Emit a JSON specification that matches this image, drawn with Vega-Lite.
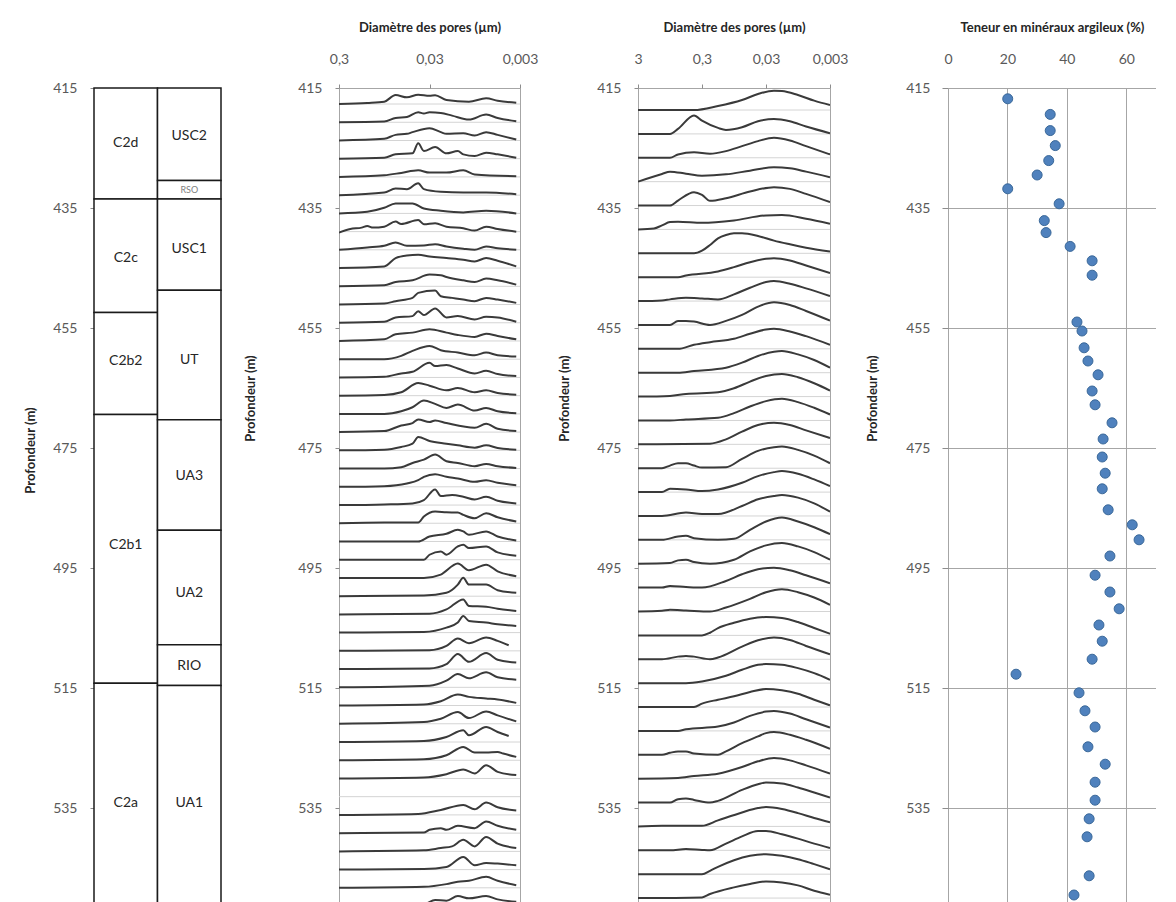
{
"$schema": "https://vega.github.io/schema/vega-lite/v6.json",
"autosize": {"type": "pad"},
"padding": {"left": 24, "top": 20, "right": 0, "bottom": 0},
"background": "white",
"config": {
  "font": "Lato",
  "view": {"stroke": null},
  "axis": {"labelFont": "Lato", "labelFontSize": 14, "labelColor": "#595959", "titleFont": "Lato", "titleFontSize": 13, "titleFontWeight": "bold", "titleColor": "#262626", "tickColor": "#8c8c8c", "domain": false, "grid": false, "labelFlush": false, "labelOverlap": false},
  "axisY": {"tickSize": 4, "labelPadding": 13, "titleBaseline": "middle", "titleAngle": -90},
  "axisX": {"tickSize": 4, "labelPadding": 25, "labelBaseline": "middle", "titleY": -61, "titleBaseline": "middle"}
},
"datasets": {
  "s": [
    {"x0": 0, "x1": 1, "t": 415, "b": 433.5, "n": "C2d", "lx": 0.5, "ly": 424.2},
    {"x0": 0, "x1": 1, "t": 433.5, "b": 452.4, "n": "C2c", "lx": 0.5, "ly": 443.3},
    {"x0": 0, "x1": 1, "t": 452.4, "b": 469.4, "n": "C2b2", "lx": 0.5, "ly": 460.5},
    {"x0": 0, "x1": 1, "t": 469.4, "b": 514.2, "n": "C2b1", "lx": 0.5, "ly": 491.1},
    {"x0": 0, "x1": 1, "t": 514.2, "b": 551, "n": "C2a", "lx": 0.5, "ly": 534.2},
    {"x0": 1, "x1": 2, "t": 415, "b": 430.4, "n": "USC2", "lx": 1.5, "ly": 423},
    {"x0": 1, "x1": 2, "t": 430.4, "b": 433.5, "n": "RSO", "lx": 1.5, "ly": 431.95},
    {"x0": 1, "x1": 2, "t": 433.5, "b": 448.7, "n": "USC1", "lx": 1.5, "ly": 441.8},
    {"x0": 1, "x1": 2, "t": 448.7, "b": 470.3, "n": "UT", "lx": 1.5, "ly": 460.3},
    {"x0": 1, "x1": 2, "t": 470.3, "b": 488.7, "n": "UA3", "lx": 1.5, "ly": 479.7},
    {"x0": 1, "x1": 2, "t": 488.7, "b": 507.8, "n": "UA2", "lx": 1.5, "ly": 499.2},
    {"x0": 1, "x1": 2, "t": 507.8, "b": 514.6, "n": "RIO", "lx": 1.5, "ly": 511.3},
    {"x0": 1, "x1": 2, "t": 514.6, "b": 551, "n": "UA1", "lx": 1.5, "ly": 534.2}
  ],
  "g2": [
    {"y": 417.67},{"y": 420.71},{"y": 423.75},{"y": 426.78},{"y": 429.82},{"y": 432.86},{"y": 435.9},{"y": 438.94},{"y": 441.97},{"y": 445.01},{"y": 448.05},{"y": 451.09},{"y": 454.13},{"y": 457.16},{"y": 460.2},{"y": 463.24},{"y": 466.28},{"y": 469.32},{"y": 472.35},{"y": 475.39},{"y": 478.43},{"y": 481.47},{"y": 484.51},{"y": 487.54},{"y": 490.58},{"y": 493.62},{"y": 496.66},{"y": 499.7},{"y": 502.73},{"y": 505.77},{"y": 508.81},{"y": 511.85},{"y": 514.89},{"y": 517.92},{"y": 520.96},{"y": 524.0},{"y": 527.04},{"y": 530.08},{"y": 533.11},{"y": 536.15},{"y": 539.19},{"y": 542.23},{"y": 545.27},{"y": 548.3}
  ],
  "g3": [
    {"y": 418.67},{"y": 422.65},{"y": 426.63},{"y": 430.61},{"y": 434.59},{"y": 438.57},{"y": 442.55},{"y": 446.53},{"y": 450.51},{"y": 454.49},{"y": 458.47},{"y": 462.45},{"y": 466.43},{"y": 470.41},{"y": 474.39},{"y": 478.37},{"y": 482.35},{"y": 486.33},{"y": 490.31},{"y": 494.29},{"y": 498.27},{"y": 502.25},{"y": 506.23},{"y": 510.21},{"y": 514.19},{"y": 518.17},{"y": 522.15},{"y": 526.13},{"y": 530.11},{"y": 534.09},{"y": 538.07},{"y": 542.05},{"y": 546.03},{"y": 550.01}
  ],
  "p2": [
    {"c":0,"d":0.3,"y":417.67},{"c":0,"d":0.1461,"y":417.5},{"c":0,"d":0.0949,"y":417.28},{"c":0,"d":0.0711,"y":416.17},{"c":0,"d":0.0533,"y":416.56},{"c":0,"d":0.04,"y":416.11},{"c":0,"d":0.03,"y":416.28},{"c":0,"d":0.026,"y":416.22},{"c":0,"d":0.0195,"y":417.0},{"c":0,"d":0.011,"y":417.28},{"c":0,"d":0.0071,"y":416.72},{"c":0,"d":0.0053,"y":417.11},{"c":0,"d":0.0033,"y":417.45},
    {"c":1,"d":0.3,"y":420.71},{"c":1,"d":0.0949,"y":420.6},{"c":1,"d":0.0711,"y":419.99},{"c":1,"d":0.0533,"y":419.82},{"c":1,"d":0.04,"y":419.04},{"c":1,"d":0.0346,"y":419.27},{"c":1,"d":0.03,"y":419.04},{"c":1,"d":0.0225,"y":419.15},{"c":1,"d":0.0169,"y":419.6},{"c":1,"d":0.011,"y":420.27},{"c":1,"d":0.0071,"y":419.43},{"c":1,"d":0.0053,"y":419.99},{"c":1,"d":0.0033,"y":420.54},
    {"c":2,"d":0.3,"y":423.75},{"c":2,"d":0.0949,"y":423.47},{"c":2,"d":0.0711,"y":422.81},{"c":2,"d":0.0533,"y":422.64},{"c":2,"d":0.0462,"y":422.36},{"c":2,"d":0.03,"y":421.69},{"c":2,"d":0.0225,"y":422.36},{"c":2,"d":0.0195,"y":422.64},{"c":2,"d":0.0127,"y":422.53},{"c":2,"d":0.0095,"y":422.92},{"c":2,"d":0.0071,"y":422.36},{"c":2,"d":0.0053,"y":422.81},{"c":2,"d":0.0033,"y":423.58},
    {"c":3,"d":0.3,"y":426.78},{"c":3,"d":0.0949,"y":426.61},{"c":3,"d":0.0711,"y":426.06},{"c":3,"d":0.0462,"y":425.89},{"c":3,"d":0.04,"y":424.22},{"c":3,"d":0.0346,"y":425.5},{"c":3,"d":0.026,"y":424.84},{"c":3,"d":0.0195,"y":425.89},{"c":3,"d":0.0146,"y":425.5},{"c":3,"d":0.0127,"y":426.06},{"c":3,"d":0.0095,"y":426.34},{"c":3,"d":0.0071,"y":425.78},{"c":3,"d":0.0053,"y":426.06},{"c":3,"d":0.0033,"y":426.61},
    {"c":4,"d":0.3,"y":429.82},{"c":4,"d":0.0949,"y":429.54},{"c":4,"d":0.0616,"y":429.15},{"c":4,"d":0.04,"y":428.71},{"c":4,"d":0.03,"y":429.1},{"c":4,"d":0.0195,"y":429.1},{"c":4,"d":0.0127,"y":428.71},{"c":4,"d":0.0095,"y":429.43},{"c":4,"d":0.0033,"y":429.71},
    {"c":5,"d":0.3,"y":432.86},{"c":5,"d":0.0949,"y":432.42},{"c":5,"d":0.0711,"y":431.75},{"c":5,"d":0.0533,"y":431.86},{"c":5,"d":0.04,"y":430.86},{"c":5,"d":0.0346,"y":431.86},{"c":5,"d":0.0225,"y":432.3},{"c":5,"d":0.0127,"y":432.42},{"c":5,"d":0.0071,"y":432.42},{"c":5,"d":0.0033,"y":432.69},
    {"c":6,"d":0.3,"y":435.9},{"c":6,"d":0.1461,"y":435.62},{"c":6,"d":0.0949,"y":434.96},{"c":6,"d":0.0711,"y":434.23},{"c":6,"d":0.0462,"y":434.23},{"c":6,"d":0.0346,"y":435.07},{"c":6,"d":0.0225,"y":435.46},{"c":6,"d":0.0127,"y":435.73},{"c":6,"d":0.0071,"y":435.46},{"c":6,"d":0.0033,"y":435.9},
    {"c":7,"d":0.3,"y":439.11},{"c":7,"d":0.225,"y":438.5},{"c":7,"d":0.1687,"y":438.27},{"c":7,"d":0.1461,"y":438.0},{"c":7,"d":0.1265,"y":438.27},{"c":7,"d":0.0949,"y":438.11},{"c":7,"d":0.0711,"y":437.27},{"c":7,"d":0.0616,"y":437.66},{"c":7,"d":0.04,"y":437.0},{"c":7,"d":0.0346,"y":437.72},{"c":7,"d":0.026,"y":437.55},{"c":7,"d":0.0195,"y":438.11},{"c":7,"d":0.0127,"y":438.38},{"c":7,"d":0.0095,"y":438.77},{"c":7,"d":0.0071,"y":438.11},{"c":7,"d":0.0053,"y":438.5},{"c":7,"d":0.0033,"y":438.94},
    {"c":8,"d":0.3,"y":441.97},{"c":8,"d":0.1461,"y":441.58},{"c":8,"d":0.0949,"y":441.3},{"c":8,"d":0.0711,"y":440.75},{"c":8,"d":0.0533,"y":441.3},{"c":8,"d":0.0346,"y":441.25},{"c":8,"d":0.026,"y":441.03},{"c":8,"d":0.0195,"y":441.41},{"c":8,"d":0.0127,"y":441.8},{"c":8,"d":0.0095,"y":441.97},{"c":8,"d":0.0071,"y":441.41},{"c":8,"d":0.0053,"y":441.69},{"c":8,"d":0.0033,"y":441.97},
    {"c":9,"d":0.3,"y":445.01},{"c":9,"d":0.0949,"y":444.73},{"c":9,"d":0.0711,"y":443.34},{"c":9,"d":0.0533,"y":442.9},{"c":9,"d":0.04,"y":442.79},{"c":9,"d":0.03,"y":443.07},{"c":9,"d":0.0195,"y":443.34},{"c":9,"d":0.0127,"y":443.62},{"c":9,"d":0.0095,"y":443.9},{"c":9,"d":0.0071,"y":443.34},{"c":9,"d":0.0053,"y":443.79},{"c":9,"d":0.0033,"y":444.73},
    {"c":10,"d":0.3,"y":448.05},{"c":10,"d":0.0949,"y":447.88},{"c":10,"d":0.0711,"y":447.33},{"c":10,"d":0.0462,"y":447.05},{"c":10,"d":0.03,"y":446.1},{"c":10,"d":0.0225,"y":446.22},{"c":10,"d":0.0195,"y":446.5},{"c":10,"d":0.0127,"y":447.05},{"c":10,"d":0.0095,"y":447.33},{"c":10,"d":0.0071,"y":446.77},{"c":10,"d":0.0053,"y":447.05},{"c":10,"d":0.0033,"y":447.77},
    {"c":11,"d":0.3,"y":451.09},{"c":11,"d":0.0949,"y":450.92},{"c":11,"d":0.0711,"y":450.53},{"c":11,"d":0.0462,"y":449.98},{"c":11,"d":0.04,"y":449.15},{"c":11,"d":0.026,"y":448.76},{"c":11,"d":0.0225,"y":449.7},{"c":11,"d":0.0169,"y":449.98},{"c":11,"d":0.0127,"y":450.26},{"c":11,"d":0.0095,"y":450.53},{"c":11,"d":0.0071,"y":449.98},{"c":11,"d":0.0053,"y":450.26},{"c":11,"d":0.0033,"y":450.81},
    {"c":12,"d":0.3,"y":454.13},{"c":12,"d":0.0949,"y":453.96},{"c":12,"d":0.0711,"y":453.24},{"c":12,"d":0.0462,"y":453.02},{"c":12,"d":0.04,"y":452.19},{"c":12,"d":0.0346,"y":452.85},{"c":12,"d":0.026,"y":451.74},{"c":12,"d":0.0195,"y":453.24},{"c":12,"d":0.0146,"y":453.02},{"c":12,"d":0.0095,"y":453.57},{"c":12,"d":0.0071,"y":453.13},{"c":12,"d":0.0053,"y":453.24},{"c":12,"d":0.0033,"y":453.96},
    {"c":13,"d":0.3,"y":457.16},{"c":13,"d":0.0949,"y":456.88},{"c":13,"d":0.0711,"y":456.05},{"c":13,"d":0.0462,"y":455.77},{"c":13,"d":0.03,"y":455.22},{"c":13,"d":0.0195,"y":455.77},{"c":13,"d":0.0146,"y":456.16},{"c":13,"d":0.0095,"y":456.49},{"c":13,"d":0.0071,"y":455.94},{"c":13,"d":0.0053,"y":456.33},{"c":13,"d":0.0033,"y":456.88},
    {"c":14,"d":0.3,"y":460.2},{"c":14,"d":0.0949,"y":460.2},{"c":14,"d":0.0616,"y":459.64},{"c":14,"d":0.0462,"y":458.81},{"c":14,"d":0.03,"y":457.98},{"c":14,"d":0.0225,"y":458.7},{"c":14,"d":0.0146,"y":459.09},{"c":14,"d":0.0095,"y":459.53},{"c":14,"d":0.0071,"y":459.09},{"c":14,"d":0.0053,"y":459.53},{"c":14,"d":0.0033,"y":459.76},
    {"c":15,"d":0.3,"y":463.24},{"c":15,"d":0.0949,"y":463.13},{"c":15,"d":0.0616,"y":462.57},{"c":15,"d":0.0462,"y":462.3},{"c":15,"d":0.03,"y":460.8},{"c":15,"d":0.026,"y":461.35},{"c":15,"d":0.0195,"y":461.18},{"c":15,"d":0.0146,"y":461.74},{"c":15,"d":0.0095,"y":462.57},{"c":15,"d":0.0071,"y":462.13},{"c":15,"d":0.0053,"y":462.68},{"c":15,"d":0.0033,"y":463.02},
    {"c":16,"d":0.3,"y":466.28},{"c":16,"d":0.0949,"y":466.17},{"c":16,"d":0.0616,"y":465.72},{"c":16,"d":0.04,"y":464.17},{"c":16,"d":0.03,"y":464.61},{"c":16,"d":0.0195,"y":465.39},{"c":16,"d":0.0146,"y":465.0},{"c":16,"d":0.0095,"y":465.72},{"c":16,"d":0.0071,"y":465.39},{"c":16,"d":0.0053,"y":465.84},{"c":16,"d":0.0033,"y":466.11},
    {"c":17,"d":0.3,"y":469.32},{"c":17,"d":0.0949,"y":469.32},{"c":17,"d":0.0616,"y":468.88},{"c":17,"d":0.0462,"y":468.21},{"c":17,"d":0.0346,"y":467.1},{"c":17,"d":0.026,"y":467.65},{"c":17,"d":0.0195,"y":468.32},{"c":17,"d":0.0146,"y":467.76},{"c":17,"d":0.0095,"y":468.76},{"c":17,"d":0.0071,"y":468.32},{"c":17,"d":0.0053,"y":468.88},{"c":17,"d":0.0033,"y":469.21},
    {"c":18,"d":0.3,"y":472.35},{"c":18,"d":0.0949,"y":472.18},{"c":18,"d":0.0616,"y":471.24},{"c":18,"d":0.0462,"y":470.85},{"c":18,"d":0.04,"y":470.24},{"c":18,"d":0.03,"y":470.68},{"c":18,"d":0.026,"y":470.41},{"c":18,"d":0.0195,"y":470.85},{"c":18,"d":0.0095,"y":471.63},{"c":18,"d":0.0071,"y":470.96},{"c":18,"d":0.0053,"y":471.8},{"c":18,"d":0.0033,"y":472.18},
    {"c":19,"d":0.3,"y":475.39},{"c":19,"d":0.0949,"y":475.28},{"c":19,"d":0.0616,"y":474.83},{"c":19,"d":0.0462,"y":474.28},{"c":19,"d":0.04,"y":473.17},{"c":19,"d":0.03,"y":473.83},{"c":19,"d":0.0195,"y":474.28},{"c":19,"d":0.0146,"y":474.56},{"c":19,"d":0.0095,"y":474.95},{"c":19,"d":0.0071,"y":474.56},{"c":19,"d":0.0053,"y":475.0},{"c":19,"d":0.0033,"y":475.28},
    {"c":20,"d":0.3,"y":478.43},{"c":20,"d":0.0949,"y":478.43},{"c":20,"d":0.0616,"y":478.21},{"c":20,"d":0.0462,"y":477.49},{"c":20,"d":0.0346,"y":476.93},{"c":20,"d":0.026,"y":476.1},{"c":20,"d":0.0195,"y":477.21},{"c":20,"d":0.0146,"y":477.49},{"c":20,"d":0.0095,"y":478.04},{"c":20,"d":0.0071,"y":477.65},{"c":20,"d":0.0053,"y":478.04},{"c":20,"d":0.0033,"y":478.32},
    {"c":21,"d":0.3,"y":481.47},{"c":21,"d":0.0949,"y":481.36},{"c":21,"d":0.0533,"y":480.91},{"c":21,"d":0.04,"y":480.36},{"c":21,"d":0.0346,"y":479.8},{"c":21,"d":0.026,"y":479.36},{"c":21,"d":0.0195,"y":479.8},{"c":21,"d":0.0146,"y":480.08},{"c":21,"d":0.0095,"y":480.64},{"c":21,"d":0.0071,"y":480.36},{"c":21,"d":0.0053,"y":480.8},{"c":21,"d":0.0033,"y":481.19},
    {"c":22,"d":0.3,"y":484.51},{"c":22,"d":0.0949,"y":484.4},{"c":22,"d":0.0462,"y":484.23},{"c":22,"d":0.0346,"y":483.68},{"c":22,"d":0.026,"y":481.9},{"c":22,"d":0.0225,"y":483.01},{"c":22,"d":0.0169,"y":482.84},{"c":22,"d":0.0127,"y":483.12},{"c":22,"d":0.0095,"y":483.57},{"c":22,"d":0.0071,"y":483.12},{"c":22,"d":0.0053,"y":483.79},{"c":22,"d":0.0033,"y":484.23},
    {"c":23,"d":0.3,"y":487.54},{"c":23,"d":0.0949,"y":487.43},{"c":23,"d":0.04,"y":487.43},{"c":23,"d":0.0346,"y":486.43},{"c":23,"d":0.026,"y":485.6},{"c":23,"d":0.0195,"y":485.71},{"c":23,"d":0.0146,"y":485.76},{"c":23,"d":0.0127,"y":486.15},{"c":23,"d":0.0095,"y":486.71},{"c":23,"d":0.0071,"y":485.87},{"c":23,"d":0.0053,"y":486.54},{"c":23,"d":0.0033,"y":487.26},
    {"c":24,"d":0.3,"y":490.58},{"c":24,"d":0.04,"y":490.58},{"c":24,"d":0.03,"y":489.75},{"c":24,"d":0.0195,"y":489.3},{"c":24,"d":0.0146,"y":488.64},{"c":24,"d":0.0127,"y":488.91},{"c":24,"d":0.011,"y":489.47},{"c":24,"d":0.0071,"y":488.91},{"c":24,"d":0.0053,"y":489.75},{"c":24,"d":0.0033,"y":490.41},
    {"c":25,"d":0.3,"y":493.62},{"c":25,"d":0.0346,"y":493.62},{"c":25,"d":0.03,"y":492.79},{"c":25,"d":0.0225,"y":492.23},{"c":25,"d":0.0195,"y":492.79},{"c":25,"d":0.0146,"y":491.4},{"c":25,"d":0.0127,"y":491.12},{"c":25,"d":0.011,"y":491.68},{"c":25,"d":0.0071,"y":491.4},{"c":25,"d":0.0053,"y":492.4},{"c":25,"d":0.0033,"y":492.95},
    {"c":26,"d":0.3,"y":496.66},{"c":26,"d":0.0346,"y":496.66},{"c":26,"d":0.0225,"y":496.1},{"c":26,"d":0.0146,"y":494.27},{"c":26,"d":0.011,"y":495.38},{"c":26,"d":0.0071,"y":494.44},{"c":26,"d":0.0053,"y":495.55},{"c":26,"d":0.0033,"y":496.38},
    {"c":27,"d":0.3,"y":499.7},{"c":27,"d":0.0346,"y":499.59},{"c":27,"d":0.0195,"y":499.14},{"c":27,"d":0.0146,"y":497.76},{"c":27,"d":0.0127,"y":496.64},{"c":27,"d":0.011,"y":497.76},{"c":27,"d":0.0071,"y":497.76},{"c":27,"d":0.0053,"y":498.7},{"c":27,"d":0.0033,"y":499.14},
    {"c":28,"d":0.3,"y":502.73},{"c":28,"d":0.03,"y":502.62},{"c":28,"d":0.0195,"y":501.9},{"c":28,"d":0.0127,"y":500.23},{"c":28,"d":0.011,"y":501.34},{"c":28,"d":0.0071,"y":501.45},{"c":28,"d":0.0053,"y":501.79},{"c":28,"d":0.0033,"y":502.17},
    {"c":29,"d":0.3,"y":505.77},{"c":29,"d":0.0346,"y":505.66},{"c":29,"d":0.0195,"y":504.94},{"c":29,"d":0.0146,"y":504.1},{"c":29,"d":0.0127,"y":503.0},{"c":29,"d":0.011,"y":503.83},{"c":29,"d":0.0071,"y":504.1},{"c":29,"d":0.0053,"y":504.38},{"c":29,"d":0.0033,"y":504.66},
    {"c":30,"d":0.3,"y":508.81},{"c":30,"d":0.03,"y":508.7},{"c":30,"d":0.0195,"y":507.98},{"c":30,"d":0.0146,"y":506.75},{"c":30,"d":0.011,"y":507.53},{"c":30,"d":0.0071,"y":506.59},{"c":30,"d":0.0053,"y":507.14},{"c":30,"d":0.004,"y":507.87},
    {"c":31,"d":0.3,"y":511.85},{"c":31,"d":0.03,"y":511.74},{"c":31,"d":0.0195,"y":511.02},{"c":31,"d":0.0146,"y":509.35},{"c":31,"d":0.011,"y":510.63},{"c":31,"d":0.0071,"y":509.18},{"c":31,"d":0.0053,"y":510.29},{"c":31,"d":0.0033,"y":510.74},
    {"c":32,"d":0.3,"y":514.89},{"c":32,"d":0.03,"y":514.61},{"c":32,"d":0.0195,"y":513.78},{"c":32,"d":0.0146,"y":512.67},{"c":32,"d":0.011,"y":513.39},{"c":32,"d":0.0071,"y":512.39},{"c":32,"d":0.0053,"y":513.22},{"c":32,"d":0.0033,"y":513.61},
    {"c":33,"d":0.3,"y":517.92},{"c":33,"d":0.0346,"y":517.75},{"c":33,"d":0.0225,"y":517.2},{"c":33,"d":0.0146,"y":516.09},{"c":33,"d":0.011,"y":516.48},{"c":33,"d":0.0071,"y":516.75},{"c":33,"d":0.0053,"y":516.92},{"c":33,"d":0.0033,"y":517.48},
    {"c":34,"d":0.3,"y":520.96},{"c":34,"d":0.0346,"y":520.68},{"c":34,"d":0.0225,"y":520.13},{"c":34,"d":0.0146,"y":519.02},{"c":34,"d":0.011,"y":520.02},{"c":34,"d":0.0071,"y":518.9},{"c":34,"d":0.0053,"y":519.57},{"c":34,"d":0.0033,"y":520.57},
    {"c":35,"d":0.3,"y":524.0},{"c":35,"d":0.0346,"y":523.83},{"c":35,"d":0.0195,"y":523.17},{"c":35,"d":0.0127,"y":522.06},{"c":35,"d":0.011,"y":522.89},{"c":35,"d":0.0071,"y":521.5},{"c":35,"d":0.0053,"y":522.33},{"c":35,"d":0.004,"y":523.0},
    {"c":36,"d":0.3,"y":527.04},{"c":36,"d":0.0346,"y":526.87},{"c":36,"d":0.0195,"y":526.21},{"c":36,"d":0.0127,"y":524.82},{"c":36,"d":0.0095,"y":525.76},{"c":36,"d":0.0071,"y":525.76},{"c":36,"d":0.0053,"y":525.65},{"c":36,"d":0.0046,"y":525.93},{"c":36,"d":0.0033,"y":526.48},
    {"c":37,"d":0.3,"y":530.08},{"c":37,"d":0.0346,"y":529.91},{"c":37,"d":0.0195,"y":529.36},{"c":37,"d":0.0127,"y":528.58},{"c":37,"d":0.0095,"y":529.25},{"c":37,"d":0.0071,"y":527.86},{"c":37,"d":0.0053,"y":528.97},{"c":37,"d":0.0033,"y":529.52},
    {"c":39,"d":0.3,"y":536.15},{"c":39,"d":0.04,"y":535.98},{"c":39,"d":0.0225,"y":535.32},{"c":39,"d":0.0127,"y":534.48},{"c":39,"d":0.0095,"y":535.21},{"c":39,"d":0.0071,"y":534.1},{"c":39,"d":0.0053,"y":534.87},{"c":39,"d":0.0033,"y":535.43},
    {"c":40,"d":0.3,"y":539.19},{"c":40,"d":0.0346,"y":539.08},{"c":40,"d":0.03,"y":538.63},{"c":40,"d":0.0225,"y":538.36},{"c":40,"d":0.0195,"y":538.63},{"c":40,"d":0.0146,"y":537.97},{"c":40,"d":0.0095,"y":538.36},{"c":40,"d":0.0071,"y":537.25},{"c":40,"d":0.0053,"y":537.97},{"c":40,"d":0.0033,"y":538.63},
    {"c":41,"d":0.3,"y":542.23},{"c":41,"d":0.0346,"y":542.06},{"c":41,"d":0.0225,"y":541.67},{"c":41,"d":0.0169,"y":541.4},{"c":41,"d":0.0127,"y":540.29},{"c":41,"d":0.0095,"y":541.4},{"c":41,"d":0.0071,"y":539.84},{"c":41,"d":0.0053,"y":540.95},{"c":41,"d":0.0033,"y":541.67},
    {"c":42,"d":0.3,"y":545.27},{"c":42,"d":0.0346,"y":545.16},{"c":42,"d":0.0195,"y":544.83},{"c":42,"d":0.0127,"y":543.16},{"c":42,"d":0.0095,"y":544.55},{"c":42,"d":0.0071,"y":544.16},{"c":42,"d":0.0053,"y":544.27},{"c":42,"d":0.0033,"y":544.55},
    {"c":43,"d":0.3,"y":548.3},{"c":43,"d":0.0346,"y":548.13},{"c":43,"d":0.0195,"y":547.69},{"c":43,"d":0.0146,"y":547.3},{"c":43,"d":0.011,"y":547.13},{"c":43,"d":0.0071,"y":546.47},{"c":43,"d":0.0053,"y":547.13},{"c":43,"d":0.0033,"y":547.86},
    {"c":44,"d":0.3,"y":551.34},{"c":44,"d":0.0346,"y":551.01},{"c":44,"d":0.026,"y":550.34},{"c":44,"d":0.0195,"y":550.45},{"c":44,"d":0.0146,"y":549.67},{"c":44,"d":0.011,"y":550.06},{"c":44,"d":0.0071,"y":549.67},{"c":44,"d":0.0053,"y":550.23},{"c":44,"d":0.0033,"y":550.62}
  ],
  "p3": [
    {"c":0,"d":3,"y":418.67},{"c":0,"d":0.4,"y":418.67},{"c":0,"d":0.1687,"y":418.0},{"c":0,"d":0.0711,"y":417.0},{"c":0,"d":0.04,"y":416.0},{"c":0,"d":0.0225,"y":415.45},{"c":0,"d":0.0169,"y":415.5},{"c":0,"d":0.0095,"y":416.17},{"c":0,"d":0.0053,"y":417.11},{"c":0,"d":0.003,"y":417.84},
    {"c":1,"d":3,"y":422.65},{"c":1,"d":0.9487,"y":422.65},{"c":1,"d":0.7114,"y":421.82},{"c":1,"d":0.4,"y":419.59},{"c":1,"d":0.3,"y":420.43},{"c":1,"d":0.1687,"y":421.65},{"c":1,"d":0.1265,"y":421.98},{"c":1,"d":0.0711,"y":421.54},{"c":1,"d":0.04,"y":420.54},{"c":1,"d":0.0225,"y":420.15},{"c":1,"d":0.0127,"y":420.54},{"c":1,"d":0.0071,"y":421.43},{"c":1,"d":0.003,"y":422.54},
    {"c":2,"d":3,"y":426.63},{"c":2,"d":0.9487,"y":426.63},{"c":2,"d":0.7114,"y":426.07},{"c":2,"d":0.4,"y":425.69},{"c":2,"d":0.225,"y":425.96},{"c":2,"d":0.1265,"y":425.52},{"c":2,"d":0.0711,"y":424.69},{"c":2,"d":0.04,"y":423.85},{"c":2,"d":0.0225,"y":423.3},{"c":2,"d":0.0127,"y":423.74},{"c":2,"d":0.0071,"y":424.69},{"c":2,"d":0.003,"y":426.07},
    {"c":3,"d":3,"y":430.61},{"c":3,"d":2.25,"y":430.17},{"c":3,"d":1.265,"y":429.33},{"c":3,"d":0.9487,"y":428.94},{"c":3,"d":0.5335,"y":429.28},{"c":3,"d":0.3,"y":429.61},{"c":3,"d":0.1265,"y":429.39},{"c":3,"d":0.0533,"y":428.78},{"c":3,"d":0.0225,"y":428.22},{"c":3,"d":0.0127,"y":428.39},{"c":3,"d":0.0071,"y":428.94},{"c":3,"d":0.003,"y":429.89},
    {"c":4,"d":3,"y":434.59},{"c":4,"d":0.9487,"y":434.59},{"c":4,"d":0.7114,"y":433.76},{"c":4,"d":0.4,"y":432.37},{"c":4,"d":0.3,"y":432.81},{"c":4,"d":0.225,"y":433.81},{"c":4,"d":0.1265,"y":433.37},{"c":4,"d":0.0533,"y":432.26},{"c":4,"d":0.0225,"y":431.53},{"c":4,"d":0.0127,"y":431.81},{"c":4,"d":0.0071,"y":432.65},{"c":4,"d":0.003,"y":434.03},
    {"c":5,"d":3,"y":438.57},{"c":5,"d":1.687,"y":438.4},{"c":5,"d":1.265,"y":437.9},{"c":5,"d":0.9487,"y":437.35},{"c":5,"d":0.7114,"y":437.29},{"c":5,"d":0.3,"y":437.46},{"c":5,"d":0.0949,"y":437.07},{"c":5,"d":0.03,"y":436.24},{"c":5,"d":0.0169,"y":436.18},{"c":5,"d":0.0071,"y":436.79},{"c":5,"d":0.003,"y":437.63},
    {"c":6,"d":3,"y":442.55},{"c":6,"d":0.4,"y":442.55},{"c":6,"d":0.3,"y":442.11},{"c":6,"d":0.225,"y":441.16},{"c":6,"d":0.1687,"y":440.05},{"c":6,"d":0.1265,"y":439.49},{"c":6,"d":0.0949,"y":439.22},{"c":6,"d":0.0711,"y":439.22},{"c":6,"d":0.04,"y":439.66},{"c":6,"d":0.0225,"y":440.44},{"c":6,"d":0.0127,"y":441.05},{"c":6,"d":0.0071,"y":441.61},{"c":6,"d":0.003,"y":442.27},
    {"c":7,"d":3,"y":446.53},{"c":7,"d":0.7114,"y":446.53},{"c":7,"d":0.5335,"y":446.25},{"c":7,"d":0.1687,"y":445.59},{"c":7,"d":0.0949,"y":444.86},{"c":7,"d":0.0533,"y":444.03},{"c":7,"d":0.03,"y":443.47},{"c":7,"d":0.0225,"y":443.36},{"c":7,"d":0.0127,"y":443.75},{"c":7,"d":0.0071,"y":444.59},{"c":7,"d":0.003,"y":445.86},
    {"c":8,"d":3,"y":450.51},{"c":8,"d":1.265,"y":450.4},{"c":8,"d":0.9487,"y":450.23},{"c":8,"d":0.5335,"y":449.95},{"c":8,"d":0.3,"y":450.07},{"c":8,"d":0.1687,"y":450.23},{"c":8,"d":0.0949,"y":449.4},{"c":8,"d":0.0533,"y":448.29},{"c":8,"d":0.03,"y":447.34},{"c":8,"d":0.0225,"y":447.18},{"c":8,"d":0.0127,"y":447.62},{"c":8,"d":0.0071,"y":448.4},{"c":8,"d":0.003,"y":449.68},
    {"c":9,"d":3,"y":454.49},{"c":9,"d":0.9487,"y":454.49},{"c":9,"d":0.7114,"y":453.82},{"c":9,"d":0.5335,"y":453.82},{"c":9,"d":0.4,"y":453.93},{"c":9,"d":0.225,"y":454.49},{"c":9,"d":0.1265,"y":453.82},{"c":9,"d":0.0711,"y":452.82},{"c":9,"d":0.04,"y":451.43},{"c":9,"d":0.0225,"y":450.71},{"c":9,"d":0.0127,"y":451.16},{"c":9,"d":0.0071,"y":452.16},{"c":9,"d":0.003,"y":453.77},
    {"c":10,"d":3,"y":458.47},{"c":10,"d":0.7114,"y":458.47},{"c":10,"d":0.4,"y":457.8},{"c":10,"d":0.225,"y":457.36},{"c":10,"d":0.0949,"y":456.8},{"c":10,"d":0.0533,"y":455.97},{"c":10,"d":0.03,"y":455.25},{"c":10,"d":0.0225,"y":455.14},{"c":10,"d":0.0127,"y":455.58},{"c":10,"d":0.0071,"y":456.36},{"c":10,"d":0.003,"y":457.8},
    {"c":11,"d":3,"y":462.45},{"c":11,"d":0.7114,"y":462.45},{"c":11,"d":0.4,"y":462.17},{"c":11,"d":0.1265,"y":461.62},{"c":11,"d":0.0711,"y":460.78},{"c":11,"d":0.04,"y":459.67},{"c":11,"d":0.0225,"y":458.95},{"c":11,"d":0.0169,"y":458.84},{"c":11,"d":0.0095,"y":459.4},{"c":11,"d":0.0053,"y":460.34},{"c":11,"d":0.003,"y":461.62},
    {"c":12,"d":3,"y":466.43},{"c":12,"d":0.9487,"y":466.32},{"c":12,"d":0.5335,"y":465.99},{"c":12,"d":0.1687,"y":465.71},{"c":12,"d":0.0949,"y":465.04},{"c":12,"d":0.0533,"y":463.93},{"c":12,"d":0.03,"y":462.99},{"c":12,"d":0.0169,"y":462.65},{"c":12,"d":0.0095,"y":463.21},{"c":12,"d":0.0053,"y":464.21},{"c":12,"d":0.003,"y":465.43},
    {"c":13,"d":3,"y":470.41},{"c":13,"d":0.9487,"y":470.41},{"c":13,"d":0.5335,"y":470.24},{"c":13,"d":0.1687,"y":469.97},{"c":13,"d":0.0949,"y":469.19},{"c":13,"d":0.0533,"y":468.08},{"c":13,"d":0.03,"y":467.19},{"c":13,"d":0.0169,"y":466.8},{"c":13,"d":0.0095,"y":467.35},{"c":13,"d":0.0053,"y":468.3},{"c":13,"d":0.003,"y":469.41},
    {"c":14,"d":3,"y":474.39},{"c":14,"d":0.225,"y":474.28},{"c":14,"d":0.1265,"y":473.56},{"c":14,"d":0.0711,"y":472.28},{"c":14,"d":0.04,"y":471.17},{"c":14,"d":0.0225,"y":470.78},{"c":14,"d":0.0127,"y":471.17},{"c":14,"d":0.0071,"y":472.06},{"c":14,"d":0.003,"y":473.33},
    {"c":15,"d":3,"y":478.37},{"c":15,"d":1.265,"y":478.37},{"c":15,"d":0.9487,"y":477.93},{"c":15,"d":0.7114,"y":477.54},{"c":15,"d":0.5335,"y":477.54},{"c":15,"d":0.4,"y":477.93},{"c":15,"d":0.3,"y":478.26},{"c":15,"d":0.1265,"y":478.2},{"c":15,"d":0.0711,"y":476.81},{"c":15,"d":0.04,"y":475.48},{"c":15,"d":0.0225,"y":474.87},{"c":15,"d":0.0169,"y":474.76},{"c":15,"d":0.0095,"y":475.31},{"c":15,"d":0.0053,"y":476.26},{"c":15,"d":0.003,"y":477.54},
    {"c":16,"d":3,"y":482.35},{"c":16,"d":1.265,"y":482.35},{"c":16,"d":0.9487,"y":481.79},{"c":16,"d":0.5335,"y":481.91},{"c":16,"d":0.3,"y":482.18},{"c":16,"d":0.1687,"y":481.91},{"c":16,"d":0.0711,"y":480.79},{"c":16,"d":0.04,"y":479.68},{"c":16,"d":0.0225,"y":479.02},{"c":16,"d":0.0169,"y":478.85},{"c":16,"d":0.0095,"y":479.3},{"c":16,"d":0.0053,"y":480.24},{"c":16,"d":0.003,"y":481.35},
    {"c":17,"d":3,"y":486.33},{"c":17,"d":1.265,"y":486.33},{"c":17,"d":0.5335,"y":485.77},{"c":17,"d":0.3,"y":486.0},{"c":17,"d":0.1687,"y":486.0},{"c":17,"d":0.0711,"y":484.66},{"c":17,"d":0.04,"y":483.55},{"c":17,"d":0.0225,"y":482.99},{"c":17,"d":0.0169,"y":482.83},{"c":17,"d":0.0095,"y":483.27},{"c":17,"d":0.0053,"y":484.22},{"c":17,"d":0.003,"y":485.61},
    {"c":18,"d":3,"y":490.31},{"c":18,"d":1.265,"y":490.31},{"c":18,"d":0.7114,"y":489.75},{"c":18,"d":0.5335,"y":489.64},{"c":18,"d":0.4,"y":490.03},{"c":18,"d":0.1687,"y":490.31},{"c":18,"d":0.0949,"y":490.14},{"c":18,"d":0.0533,"y":488.64},{"c":18,"d":0.03,"y":487.25},{"c":18,"d":0.0169,"y":486.59},{"c":18,"d":0.0095,"y":487.25},{"c":18,"d":0.0053,"y":488.2},{"c":18,"d":0.003,"y":489.37},
    {"c":19,"d":3,"y":494.29},{"c":19,"d":0.9487,"y":494.18},{"c":19,"d":0.7114,"y":493.73},{"c":19,"d":0.5335,"y":493.62},{"c":19,"d":0.4,"y":494.01},{"c":19,"d":0.225,"y":494.29},{"c":19,"d":0.0949,"y":493.62},{"c":19,"d":0.0533,"y":492.23},{"c":19,"d":0.03,"y":491.23},{"c":19,"d":0.0169,"y":490.85},{"c":19,"d":0.0095,"y":491.4},{"c":19,"d":0.0053,"y":492.35},{"c":19,"d":0.003,"y":493.62},
    {"c":20,"d":3,"y":498.27},{"c":20,"d":1.265,"y":498.27},{"c":20,"d":0.9487,"y":497.99},{"c":20,"d":0.5335,"y":498.16},{"c":20,"d":0.3,"y":498.27},{"c":20,"d":0.1265,"y":497.16},{"c":20,"d":0.0711,"y":496.05},{"c":20,"d":0.04,"y":495.21},{"c":20,"d":0.0225,"y":494.94},{"c":20,"d":0.0127,"y":495.38},{"c":20,"d":0.0071,"y":496.22},{"c":20,"d":0.003,"y":497.55},
    {"c":21,"d":3,"y":502.25},{"c":21,"d":1.265,"y":502.14},{"c":21,"d":0.9487,"y":501.97},{"c":21,"d":0.5335,"y":502.08},{"c":21,"d":0.225,"y":502.25},{"c":21,"d":0.1265,"y":501.58},{"c":21,"d":0.0533,"y":500.14},{"c":21,"d":0.03,"y":499.03},{"c":21,"d":0.0169,"y":498.53},{"c":21,"d":0.0095,"y":499.03},{"c":21,"d":0.0053,"y":499.92},{"c":21,"d":0.003,"y":501.14},
    {"c":22,"d":3,"y":506.23},{"c":22,"d":0.3,"y":506.23},{"c":22,"d":0.225,"y":505.79},{"c":22,"d":0.1687,"y":505.01},{"c":22,"d":0.0949,"y":504.12},{"c":22,"d":0.0533,"y":503.45},{"c":22,"d":0.03,"y":503.17},{"c":22,"d":0.0169,"y":503.34},{"c":22,"d":0.0095,"y":504.01},{"c":22,"d":0.0053,"y":505.01},{"c":22,"d":0.003,"y":505.95},
    {"c":23,"d":3,"y":510.21},{"c":23,"d":1.265,"y":510.21},{"c":23,"d":0.7114,"y":509.77},{"c":23,"d":0.5335,"y":509.65},{"c":23,"d":0.4,"y":509.77},{"c":23,"d":0.225,"y":510.21},{"c":23,"d":0.1687,"y":509.93},{"c":23,"d":0.0711,"y":508.1},{"c":23,"d":0.04,"y":507.04},{"c":23,"d":0.0225,"y":506.6},{"c":23,"d":0.0127,"y":506.99},{"c":23,"d":0.0071,"y":507.99},{"c":23,"d":0.003,"y":509.38},
    {"c":24,"d":3,"y":514.19},{"c":24,"d":0.5335,"y":514.19},{"c":24,"d":0.3,"y":513.91},{"c":24,"d":0.1265,"y":512.97},{"c":24,"d":0.0711,"y":511.97},{"c":24,"d":0.04,"y":511.13},{"c":24,"d":0.03,"y":511.02},{"c":24,"d":0.0169,"y":511.13},{"c":24,"d":0.0095,"y":511.69},{"c":24,"d":0.0053,"y":512.52},{"c":24,"d":0.003,"y":513.63},
    {"c":25,"d":3,"y":518.17},{"c":25,"d":0.4,"y":518.17},{"c":25,"d":0.3,"y":517.61},{"c":25,"d":0.1687,"y":516.95},{"c":25,"d":0.0949,"y":516.39},{"c":25,"d":0.0533,"y":515.67},{"c":25,"d":0.03,"y":515.17},{"c":25,"d":0.0169,"y":515.39},{"c":25,"d":0.0095,"y":515.95},{"c":25,"d":0.0053,"y":516.95},{"c":25,"d":0.003,"y":517.89},
    {"c":26,"d":3,"y":522.15},{"c":26,"d":0.7114,"y":522.15},{"c":26,"d":0.5335,"y":521.87},{"c":26,"d":0.1687,"y":521.43},{"c":26,"d":0.0949,"y":520.76},{"c":26,"d":0.0533,"y":519.65},{"c":26,"d":0.03,"y":518.93},{"c":26,"d":0.0225,"y":518.82},{"c":26,"d":0.0127,"y":519.26},{"c":26,"d":0.0071,"y":520.21},{"c":26,"d":0.003,"y":521.59},
    {"c":27,"d":3,"y":526.13},{"c":27,"d":1.265,"y":526.13},{"c":27,"d":0.9487,"y":525.8},{"c":27,"d":0.7114,"y":525.57},{"c":27,"d":0.5335,"y":525.57},{"c":27,"d":0.4,"y":525.91},{"c":27,"d":0.1687,"y":526.13},{"c":27,"d":0.1265,"y":525.57},{"c":27,"d":0.0711,"y":524.19},{"c":27,"d":0.04,"y":523.07},{"c":27,"d":0.03,"y":522.52},{"c":27,"d":0.0225,"y":522.35},{"c":27,"d":0.0127,"y":522.8},{"c":27,"d":0.0071,"y":523.63},{"c":27,"d":0.003,"y":525.13},
    {"c":28,"d":3,"y":530.11},{"c":28,"d":0.7114,"y":530.0},{"c":28,"d":0.4,"y":529.67},{"c":28,"d":0.1687,"y":529.28},{"c":28,"d":0.0711,"y":528.17},{"c":28,"d":0.04,"y":527.22},{"c":28,"d":0.0225,"y":526.67},{"c":28,"d":0.0127,"y":527.06},{"c":28,"d":0.0071,"y":527.89},{"c":28,"d":0.003,"y":529.28},
    {"c":29,"d":3,"y":534.09},{"c":29,"d":0.9487,"y":534.09},{"c":29,"d":0.7114,"y":533.53},{"c":29,"d":0.5335,"y":533.42},{"c":29,"d":0.4,"y":533.65},{"c":29,"d":0.225,"y":534.09},{"c":29,"d":0.1687,"y":533.81},{"c":29,"d":0.0711,"y":531.98},{"c":29,"d":0.04,"y":531.03},{"c":29,"d":0.03,"y":530.76},{"c":29,"d":0.0169,"y":530.92},{"c":29,"d":0.0095,"y":531.59},{"c":29,"d":0.0053,"y":532.42},{"c":29,"d":0.003,"y":533.26},
    {"c":30,"d":3,"y":538.07},{"c":30,"d":1.265,"y":537.96},{"c":30,"d":0.3,"y":537.96},{"c":30,"d":0.1687,"y":537.07},{"c":30,"d":0.0711,"y":535.74},{"c":30,"d":0.04,"y":535.01},{"c":30,"d":0.03,"y":534.85},{"c":30,"d":0.0169,"y":535.18},{"c":30,"d":0.0095,"y":535.85},{"c":30,"d":0.0053,"y":536.68},{"c":30,"d":0.003,"y":537.4},
    {"c":31,"d":3,"y":542.05},{"c":31,"d":0.9487,"y":542.05},{"c":31,"d":0.5335,"y":541.83},{"c":31,"d":0.3,"y":541.99},{"c":31,"d":0.225,"y":542.05},{"c":31,"d":0.1265,"y":540.94},{"c":31,"d":0.0711,"y":539.72},{"c":31,"d":0.04,"y":538.83},{"c":31,"d":0.03,"y":538.83},{"c":31,"d":0.0169,"y":539.38},{"c":31,"d":0.0095,"y":540.11},{"c":31,"d":0.0053,"y":540.94},{"c":31,"d":0.003,"y":541.66},
    {"c":32,"d":3,"y":546.03},{"c":32,"d":0.3,"y":546.03},{"c":32,"d":0.225,"y":545.47},{"c":32,"d":0.1687,"y":544.81},{"c":32,"d":0.0949,"y":543.7},{"c":32,"d":0.0533,"y":542.97},{"c":32,"d":0.03,"y":542.7},{"c":32,"d":0.0169,"y":542.97},{"c":32,"d":0.0095,"y":543.53},{"c":32,"d":0.0053,"y":544.36},{"c":32,"d":0.003,"y":545.2},
    {"c":33,"d":3,"y":550.01},{"c":33,"d":0.3,"y":549.9},{"c":33,"d":0.225,"y":549.34},{"c":33,"d":0.0949,"y":548.23},{"c":33,"d":0.0533,"y":547.68},{"c":33,"d":0.03,"y":547.23},{"c":33,"d":0.0169,"y":547.4},{"c":33,"d":0.0095,"y":547.9},{"c":33,"d":0.0053,"y":548.79},{"c":33,"d":0.003,"y":549.45}
  ],
  "clay": [
    {"v":20.1,"y":416.8},{"v":34.4,"y":419.4},{"v":34.4,"y":422.1},{"v":36.1,"y":424.6},{"v":33.9,"y":427.1},{"v":30.0,"y":429.5},{"v":20.1,"y":431.8},{"v":37.4,"y":434.3},{"v":32.4,"y":437.1},{"v":33.0,"y":439.1},{"v":41.1,"y":441.4},{"v":48.5,"y":443.8},{"v":48.5,"y":446.2},{"v":43.4,"y":454.0},{"v":45.1,"y":455.5},{"v":45.8,"y":458.3},{"v":47.1,"y":460.5},{"v":50.5,"y":462.8},{"v":48.5,"y":465.5},{"v":49.5,"y":467.8},{"v":55.2,"y":470.8},{"v":52.2,"y":473.5},{"v":51.9,"y":476.5},{"v":52.9,"y":479.2},{"v":51.9,"y":481.8},{"v":53.9,"y":485.3},{"v":62.0,"y":487.8},{"v":64.3,"y":490.3},{"v":54.5,"y":493.0},{"v":49.5,"y":496.2},{"v":54.5,"y":499.0},{"v":57.6,"y":501.8},{"v":50.8,"y":504.5},{"v":51.9,"y":507.2},{"v":48.5,"y":510.2},{"v":22.9,"y":512.7},{"v":44.1,"y":515.8},{"v":46.1,"y":518.8},{"v":49.5,"y":521.5},{"v":47.1,"y":524.8},{"v":52.9,"y":527.7},{"v":49.5,"y":530.7},{"v":49.5,"y":533.7},{"v":47.5,"y":536.8},{"v":46.8,"y":539.8},{"v":47.5,"y":546.3},{"v":42.4,"y":549.5}
  ]
},
"bounds": "flush",
"spacing": 118,
"hconcat": [
  {
    "width": 127, "height": 816,
    "layer": [
      {
        "data": {"name": "s"},
        "mark": {"type": "rect", "fill": "white", "stroke": "#1a1a1a", "strokeWidth": 1.5},
        "encoding": {
          "x": {"field": "x0", "type": "quantitative", "scale": {"domain": [0, 2], "nice": false}, "axis": null},
          "x2": {"field": "x1"},
          "y": {"field": "t", "type": "quantitative", "scale": {"domain": [415, 551], "reverse": true, "nice": false, "zero": false},
                "axis": {"values": [415, 435, 455, 475, 495, 515, 535], "title": "Profondeur (m)", "titleX": -64, "titleY": 362}},
          "y2": {"field": "b"}
        }
      },
      {
        "data": {"name": "s"},
        "transform": [{"filter": "datum.n != 'RSO'"}],
        "mark": {"type": "text", "fontSize": 14, "color": "#262626", "font": "Lato"},
        "encoding": {
          "x": {"field": "lx", "type": "quantitative"},
          "y": {"field": "ly", "type": "quantitative"},
          "text": {"field": "n"}
        }
      },
      {
        "data": {"name": "s"},
        "transform": [{"filter": "datum.n == 'RSO'"}],
        "mark": {"type": "text", "fontSize": 9, "color": "#808080", "font": "Lato"},
        "encoding": {
          "x": {"field": "lx", "type": "quantitative"},
          "y": {"field": "ly", "type": "quantitative"},
          "text": {"field": "n"}
        }
      }
    ]
  },
  {
    "width": 181, "height": 816,
    "view": {"stroke": "#a6a6a6"},
    "layer": [
      {
        "data": {"name": "g2"},
        "mark": {"type": "rule", "color": "#d4d4d4", "strokeWidth": 1, "clip": true},
        "encoding": {
          "y": {"field": "y", "type": "quantitative", "scale": {"domain": [415, 551], "reverse": true, "nice": false, "zero": false},
                "axis": {"values": [415, 435, 455, 475, 495, 515, 535], "title": "Profondeur (m)", "titleX": -89, "titleY": 310}}
        }
      },
      {
        "data": {"name": "p2"},
        "mark": {"type": "line", "color": "#3a3a3a", "strokeWidth": 2, "interpolate": "monotone", "clip": true},
        "encoding": {
          "x": {"field": "d", "type": "quantitative", "scale": {"type": "log", "domain": [0.003, 0.3], "reverse": true, "nice": false},
                "axis": {"orient": "top", "values": [0.3, 0.03, 0.003], "labelExpr": "replace(toString(datum.value), '.', ',')", "title": "Diamètre des pores (µm)"}},
          "y": {"field": "y", "type": "quantitative"},
          "detail": {"field": "c", "type": "nominal"}
        }
      }
    ]
  },
  {
    "width": 192, "height": 816,
    "view": {"stroke": "#a6a6a6"},
    "layer": [
      {
        "data": {"name": "g3"},
        "mark": {"type": "rule", "color": "#d4d4d4", "strokeWidth": 1, "clip": true},
        "encoding": {
          "y": {"field": "y", "type": "quantitative", "scale": {"domain": [415, 551], "reverse": true, "nice": false, "zero": false},
                "axis": {"values": [415, 435, 455, 475, 495, 515, 535], "title": "Profondeur (m)", "titleX": -74, "titleY": 310}}
        }
      },
      {
        "data": {"name": "p3"},
        "mark": {"type": "line", "color": "#3a3a3a", "strokeWidth": 2, "interpolate": "monotone", "clip": true},
        "encoding": {
          "x": {"field": "d", "type": "quantitative", "scale": {"type": "log", "domain": [0.003, 3], "reverse": true, "nice": false},
                "axis": {"orient": "top", "values": [3, 0.3, 0.03, 0.003], "labelExpr": "replace(toString(datum.value), '.', ',')", "title": "Diamètre des pores (µm)"}},
          "y": {"field": "y", "type": "quantitative"},
          "detail": {"field": "c", "type": "nominal"}
        }
      }
    ]
  },
  {
    "width": 208, "height": 816,
    "data": {"name": "clay"},
    "mark": {"type": "circle", "size": 100, "color": "#4f81bd", "stroke": "#3a6899", "strokeWidth": 1, "opacity": 1, "clip": true},
    "encoding": {
      "x": {"field": "v", "type": "quantitative", "scale": {"domain": [0, 70], "nice": false, "zero": true},
            "axis": {"orient": "top", "values": [0, 20, 40, 60], "grid": true, "gridColor": "#a6a6a6", "tickSize": 0, "labelPadding": 29, "title": "Teneur en minéraux argileux (%)"}},
      "y": {"field": "y", "type": "quantitative", "scale": {"domain": [415, 551], "reverse": true, "nice": false, "zero": false},
            "axis": {"values": [415, 435, 455, 475, 495, 515, 535], "grid": true, "gridColor": "#a6a6a6", "tickSize": 6, "labelPadding": 12, "title": "Profondeur (m)", "titleX": -76, "titleY": 310}}
    }
  }
]
}
